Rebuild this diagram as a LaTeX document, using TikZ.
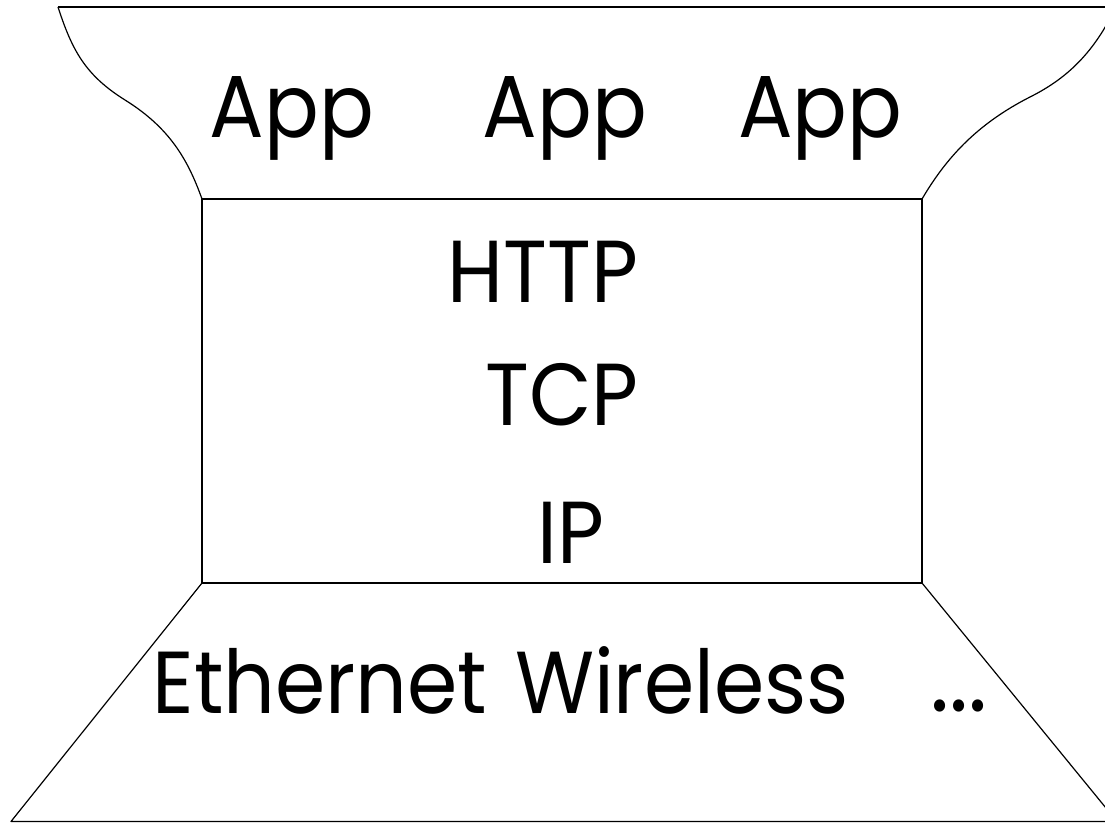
\documentclass[tikz,border=0pt]{standalone}
\usepackage{fontspec}
\setmainfont{Poppins}[FakeStretch=0.92]
\begin{document}
\begin{tikzpicture}[x=0.75pt,y=-0.75pt,
  edge/.style={draw=black,line width=0.9pt,line join=round},
  lbl/.style={anchor=base,inner sep=0pt,font=\fontsize{66}{70}\selectfont}]
\useasboundingbox (0,0) rectangle (1105,823);
\clip (0,0) rectangle (1105,823);
% top funnel
\draw[edge] (58,7) -- (1140,7);
\draw[edge] (58,7) .. controls (72,50) and (85,75) .. (125,100) .. controls (170,128) and (188,160) .. (202,199);
\draw[edge] (922,199) .. controls (945,160) and (975,125) .. (1030,97) .. controls (1070,77) and (1095,50) .. (1116,7);
% middle box
\draw[edge] (202,199) rectangle (922,583);
% bottom trapezoid
\draw[edge] (202,583) -- (11,821.5) -- (1140,821.5);
\draw[edge] (922,583) -- (1117,821.5);
% labels
\node[lbl] (app1) at (292,138) {App};
\node[lbl] (app2) at (565,138) {App};
\node[lbl] (app3) at (820,138) {App};
\node[lbl] (http) at (543,302) {HTTP};
\node[lbl] (tcp) at (562,425) {TCP};
\node[lbl] (ip) at (571,563) {IP};
\node[lbl] (eth) at (320,713) {Ethernet};
\node[lbl] (wls) at (682,713) {Wireless};
\node[lbl,font=\fontsize{74}{76}\selectfont] (dots) at (959,711) {...};
\end{tikzpicture}
\end{document}
